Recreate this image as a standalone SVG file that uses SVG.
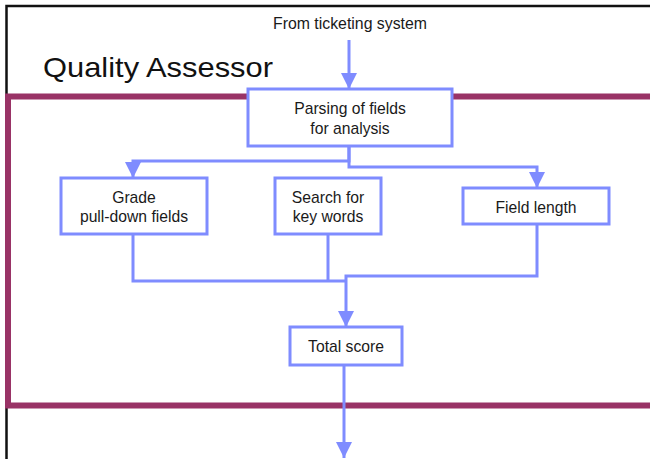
<svg xmlns="http://www.w3.org/2000/svg" width="650" height="459" viewBox="0 0 650 459">
<defs>
<style>
.box{fill:#fff;stroke:#7F8CFF;stroke-width:3}
.conn{fill:none;stroke:#7F8CFF;stroke-width:3}
.t{font-family:"Liberation Sans",Arial,sans-serif;font-size:15.7px;fill:#1a1a1a;text-anchor:middle}
</style>
<marker id="ah" viewBox="0 0 10 10" refX="10" refY="5" markerWidth="16" markerHeight="16" markerUnits="userSpaceOnUse" orient="auto">
<path d="M0,0 L10,5 L0,10 z" fill="#7F8CFF"/>
</marker>
</defs>
<rect width="650" height="459" fill="#fff"/>
<path d="M6.5,459 V6 H650" fill="none" stroke="#111" stroke-width="2.5"/>
<text x="43" y="77" font-family="&quot;Liberation Sans&quot;,Arial,sans-serif" font-size="28" fill="#111" textLength="230" lengthAdjust="spacingAndGlyphs">Quality Assessor</text>
<text class="t" x="350" y="29" font-size="14" textLength="154" lengthAdjust="spacingAndGlyphs">From ticketing system</text>
<rect x="8" y="96.5" width="650" height="309" fill="none" stroke="#993366" stroke-width="6"/>
<g id="connectors">
<path class="conn" d="M349,40 V89" marker-end="url(#ah)"/>
<path class="conn" d="M349,146 V161 H133 V178" marker-end="url(#ah)"/>
<path class="conn" d="M349,146 V167 H537 V188" marker-end="url(#ah)"/>
<path class="conn" d="M133,234 V281 H346"/>
<path class="conn" d="M328,234 V281"/>
<path class="conn" d="M537,224 V276 H346 V327" marker-end="url(#ah)"/>
<path class="conn" d="M344,365 V458" stroke-width="2" marker-end="url(#ah)"/>
</g>
<g id="parsing">
<rect class="box" x="248" y="89" width="204" height="57"/>
<text class="t" x="350" y="114">Parsing of fields</text>
<text class="t" x="350" y="134">for analysis</text>
</g>
<g id="grade">
<rect class="box" x="61" y="178" width="146" height="56"/>
<text class="t" x="134" y="203">Grade</text>
<text class="t" x="134" y="222">pull-down fields</text>
</g>
<g id="search">
<rect class="box" x="275" y="178" width="106" height="56"/>
<text class="t" x="328" y="203">Search for</text>
<text class="t" x="328" y="222">key words</text>
</g>
<g id="fieldlength">
<rect class="box" x="463" y="188" width="146" height="36"/>
<text class="t" x="536" y="213">Field length</text>
</g>
<g id="total">
<rect class="box" x="290" y="327" width="112" height="38"/>
<text class="t" x="346" y="352">Total score</text>
</g>
</svg>
